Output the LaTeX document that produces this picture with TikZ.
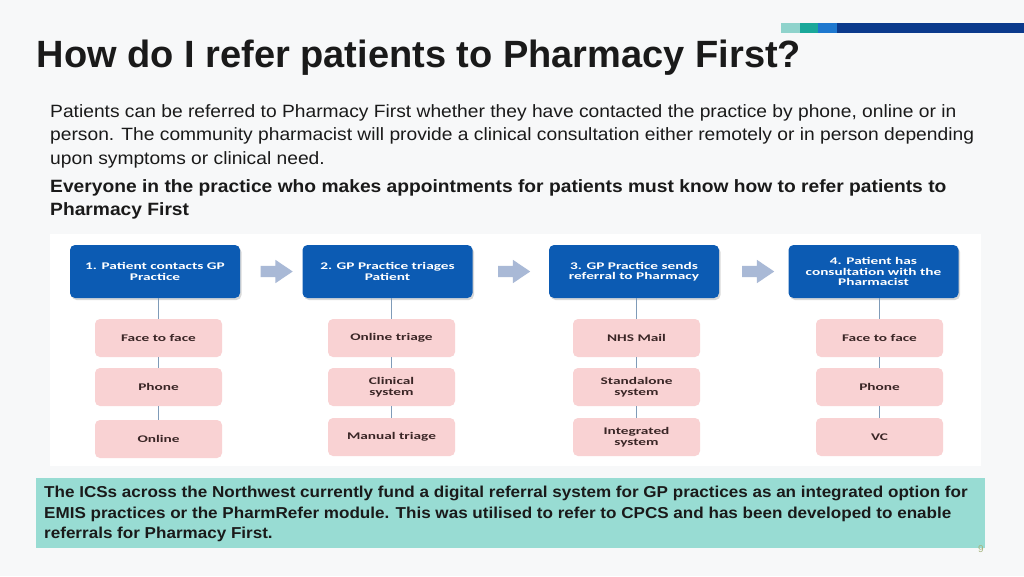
\documentclass[tikz,border=0pt]{standalone}
\usepackage{fontspec}
\setmainfont{Liberation Sans}
\newfontfamily\bodyfont[FakeStretch=1.08]{Liberation Sans}
\newfontfamily\boxfont[FakeStretch=1.5]{Carlito}
\usetikzlibrary{positioning,shapes.arrows,shadows}
\definecolor{pfPage}  {HTML}{F7F8F9}
\definecolor{pfInk}   {HTML}{1A1A1A}
\definecolor{pfBoxInk}{HTML}{3A2626}
\definecolor{pfBlue}  {HTML}{0C5BB3}
\definecolor{pfPink}  {HTML}{F9D2D3}
\definecolor{pfArrow} {HTML}{A9B9D6}
\definecolor{pfLine}  {HTML}{7F9BB8}
\definecolor{pfTeal}  {HTML}{98DCD3}
\definecolor{pfBarA}  {HTML}{8FD3CC}
\definecolor{pfBarB}  {HTML}{1AA89A}
\definecolor{pfBarC}  {HTML}{1E78CF}
\definecolor{pfBarD}  {HTML}{0B3A8C}
\definecolor{pfPageNo}{HTML}{A6B47E}

\tikzset{
  stepbox/.style={draw=none,fill=pfBlue,rounded corners=5pt,minimum width=170pt,
    minimum height=53pt,text=white,align=center,
    font=\boxfont\bfseries\fontsize{10.2}{10.2}\selectfont,
    drop shadow={opacity=0.3,shadow xshift=1.5pt,shadow yshift=-2pt}},
  optbox/.style={fill=pfPink,rounded corners=5pt,minimum width=127pt,minimum height=38pt,
    text=pfBoxInk,align=center,font=\boxfont\bfseries\fontsize{10.2}{11.5}\selectfont},
  flowarrow/.style={single arrow,fill=pfArrow,minimum height=32pt,inner xsep=0pt,
    inner ysep=5.5pt,single arrow head extend=6pt,single arrow tip angle=68},
  link/.style={draw=pfLine,line width=0.8pt}
}

\begin{document}
\begin{tikzpicture}[x=1pt,y=-1pt]
  \fill[pfPage] (0,0) rectangle (1024,576);
  \useasboundingbox (0,0) rectangle (1024,576);

  % corner bar
  \fill[pfBarA] (781,23) rectangle (800,33);
  \fill[pfBarB] (800,23) rectangle (818,33);
  \fill[pfBarC] (818,23) rectangle (837,33);
  \fill[pfBarD] (837,23) rectangle (1024,33);

  \node[anchor=base west,inner sep=0pt,text=pfInk,font=\bfseries\fontsize{38}{40}\selectfont]
    (title) at (36.5,67.5) {How do I refer patients to Pharmacy First?};

  \node[anchor=north west,inner sep=0pt,align=left,text=pfInk,font=\bodyfont\fontsize{17.8}{23.2}\selectfont]
    (intro) at (50,104.5)
    {Patients can be referred to Pharmacy First whether they have contacted the practice by phone, online or in\\
     person. The community pharmacist will provide a clinical consultation either remotely or in person depending\\
     upon symptoms or clinical need.};
  \node[anchor=north west,inner sep=0pt,align=left,text=pfInk,font=\bodyfont\bfseries\fontsize{17.8}{23}\selectfont]
    (rule) at (50,179.5)
    {Everyone in the practice who makes appointments for patients must know how to refer patients to\\
     Pharmacy First};

  % diagram panel
  \fill[white] (50,234) rectangle (981,466);

  \node[stepbox] (s1) at (155,271.5) {1. Patient contacts GP\\Practice};
  \node[stepbox] (s2) at (387.5,271.5) {2. GP Practice triages\\Patient};
  \node[stepbox] (s3) at (634,271.5) {3. GP Practice sends\\referral to Pharmacy};
  \node[stepbox] (s4) at (873.5,271.5) {4. Patient has\\consultation with the\\Pharmacist};

  \node[flowarrow] (a12) at (272.5,271.5) {};
  \node[flowarrow] (a23) at (510,271.5) {};
  \node[flowarrow] (a34) at (754,271.5) {};

  \node[optbox] (o11) at (158.5,338) {Face to face};
  \node[optbox] (o12) at (158.5,387) {Phone};
  \node[optbox] (o13) at (158.5,439) {Online};

  \node[optbox] (o21) at (391.5,338) {Online triage};
  \node[optbox] (o22) at (391.5,387) {Clinical\\system};
  \node[optbox] (o23) at (391.5,437) {Manual triage};

  \node[optbox] (o31) at (636.5,338) {NHS Mail};
  \node[optbox] (o32) at (636.5,387) {Standalone\\system};
  \node[optbox] (o33) at (636.5,437) {Integrated\\system};

  \node[optbox] (o41) at (879.5,338) {Face to face};
  \node[optbox] (o42) at (879.5,387) {Phone};
  \node[optbox] (o43) at (879.5,437) {VC};

  \foreach \c in {1,2,3,4} {
    \draw[link] (o\c1.north |- s\c.south) -- (o\c1.north);
    \draw[link] (o\c1) -- (o\c2);
    \draw[link] (o\c2) -- (o\c3);
  }

  % note at the foot
  \fill[pfTeal] (36,478) rectangle (985,548);
  \node[anchor=north west,inner sep=0pt,align=left,text=pfInk,font=\bodyfont\bfseries\fontsize{15.8}{20.5}\selectfont]
    (note) at (44,486)
    {The ICSs across the Northwest currently fund a digital referral system for GP practices as an integrated option for\\
     EMIS practices or the PharmRefer module. This was utilised to refer to CPCS and has been developed to enable\\
     referrals for Pharmacy First.};

  \node[text=pfPageNo,font=\fontsize{10}{10}\selectfont,inner sep=0pt] (pageno) at (981,549) {9};
\end{tikzpicture}
\end{document}
